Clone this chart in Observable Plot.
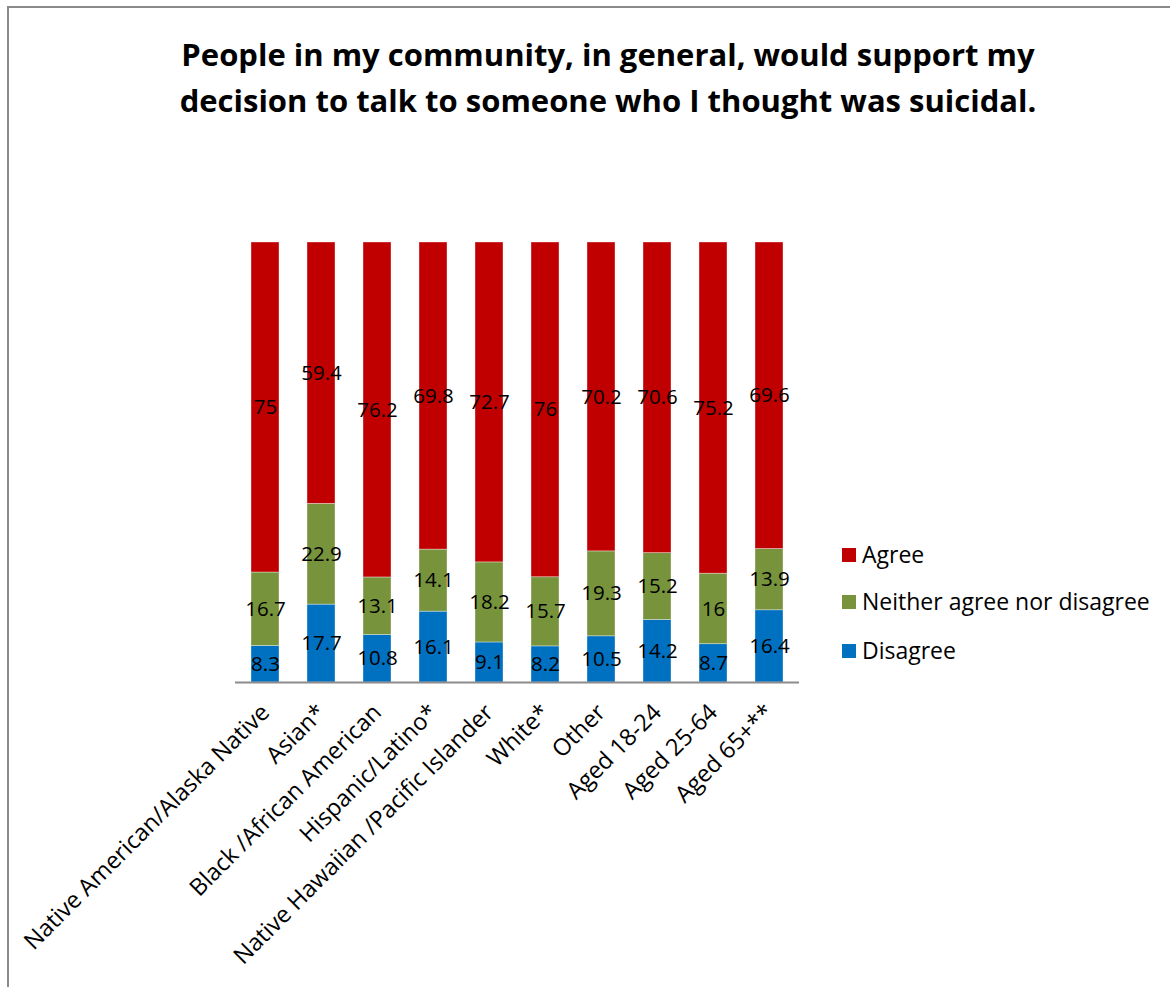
<!DOCTYPE html>
<html>
<head>
<meta charset="utf-8">
<script src="https://cdn.jsdelivr.net/npm/d3@7"></script>
<script src="https://cdn.jsdelivr.net/npm/@observablehq/plot@0.6"></script>
<style>
  html, body { margin: 0; padding: 0; background: #fff; }
  #wrap { position: relative; width: 1170px; height: 987px; overflow: hidden; font-family: "Open Sans", sans-serif; }
  #frame { position: absolute; left: 7px; top: 6px; width: 1200px; height: 1100px; border-left: 2px solid #8a8a8a; border-top: 2px solid #8a8a8a; }
  #title { position: absolute; left: 0; width: 1216px; top: 31px; text-align: center; font-weight: bold; font-size: 31px; line-height: 46px; color: #000; }
  #legend { position: absolute; left: 842px; top: 540px; font-size: 23px; color: #000; }
  .row { position: absolute; left: 0; white-space: nowrap; height: 28px; line-height: 28px; }
  .sw { display: inline-block; width: 14px; height: 14px; vertical-align: middle; margin-right: 6px; position: relative; top: -2px; }
  #chart { position: absolute; left: 0; top: 0; }
</style>
</head>
<body>
<div id="wrap">
  <div id="frame"></div>
  <div id="chart"></div>
  <div id="title">People in my community, in general, would support my<br>decision to talk to someone who I thought was suicidal.</div>
  <div id="legend"></div>
</div>
<script>
const groups = ["Native American/Alaska Native", "Asian*", "Black /African American", "Hispanic/Latino*", "Native Hawaiian /Pacific Islander", "White*", "Other", "Aged 18-24", "Aged 25-64", "Aged 65+**"];
const agree    = [75, 59.4, 76.2, 69.8, 72.7, 76, 70.2, 70.6, 75.2, 69.6];
const neither  = [16.7, 22.9, 13.1, 14.1, 18.2, 15.7, 19.3, 15.2, 16, 13.9];
const disagree = [8.3, 17.7, 10.8, 16.1, 9.1, 8.2, 10.5, 14.2, 8.7, 16.4];
const seriesNames = ["Disagree", "Neither agree nor disagree", "Agree"];
const seriesColors = ["#0070C0", "#77933C", "#C00000"];
const legendOrder = ["Agree", "Neither agree nor disagree", "Disagree"];

const seriesValues = {"Disagree": disagree, "Neither agree nor disagree": neither, "Agree": agree};
const data = [];
seriesNames.forEach(s => groups.forEach((g, i) => data.push({group: g, series: s, value: seriesValues[s][i]})));

const stackOpts = {x: "group", y: "value", z: "series", order: seriesNames, offset: "normalize"};

const plot = Plot.plot({
  width: 1170,
  height: 987,
  marginLeft: 235,
  marginRight: 371,
  marginTop: 242,
  marginBottom: 305,
  style: {fontFamily: "'Open Sans', sans-serif", background: "transparent"},
  x: {domain: groups, paddingInner: 0.495, paddingOuter: 0.2475, axis: null},
  y: {domain: [0, 1], axis: null},
  color: {domain: seriesNames, range: seriesColors},
  marks: [
    Plot.barY(data, Plot.stackY({...stackOpts, fill: "series", stroke: "#ffffff", strokeOpacity: 0.45, strokeWidth: 0.8})),
    Plot.ruleY([0], {stroke: "#8c8c8c", strokeWidth: 2}),
    Plot.text(data, Plot.stackY({...stackOpts, text: d => String(d.value), fill: "#000", fontSize: 20.5})),
    Plot.text(groups, {x: d => d, frameAnchor: "bottom", rotate: -45, textAnchor: "end", lineAnchor: "middle", dy: 26, dx: 0, fontSize: 23.5, fill: "#000"})
  ]
});
document.getElementById("chart").appendChild(plot);

const legend = document.getElementById("legend");
const tops = [0, 47, 96];
legendOrder.forEach((name, k) => {
  const row = document.createElement("div");
  row.className = "row";
  row.style.top = tops[k] + "px";
  const sw = document.createElement("span");
  sw.className = "sw";
  sw.style.background = seriesColors[seriesNames.indexOf(name)];
  row.appendChild(sw);
  row.appendChild(document.createTextNode(name));
  legend.appendChild(row);
});
</script>
</body>
</html>
